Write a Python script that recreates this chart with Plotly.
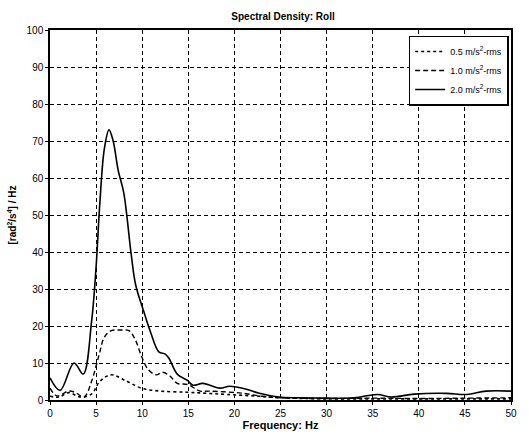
import plotly.graph_objects as go

# Series data
x_05 = [0, 1, 2, 3.3, 4.5, 5.4, 6.6, 8.0, 9.9, 12.0, 14.9, 17.0, 19.2, 22.7, 25, 28, 30, 35, 40, 45, 50]
y_05 = [1.0, 0.8, 2.0, 0.8, 1.6, 5.0, 6.8, 5.5, 3.2, 2.4, 2.1, 1.8, 1.5, 1.0, 0.6, 0.4, 0.3, 0.3, 0.3, 0.3, 0.3]

x_10 = [0, 0.75, 2.0, 2.7, 3.7, 4.5, 5.3, 5.9, 6.6, 7.6, 8.6, 9.3, 9.9, 10.6, 11.5, 12.2, 13.0, 13.8, 14.9, 16.3, 17.3, 20.2, 21.3, 23, 25, 30, 35, 40, 45, 50]
y_10 = [3.2, 1.1, 2.4, 2.1, 0.8, 5.0, 12.0, 17.0, 18.7, 18.9, 18.7, 16.0, 12.0, 8.4, 6.8, 7.5, 6.5, 4.5, 4.2, 2.4, 2.4, 2.0, 1.7, 1.0, 0.6, 0.4, 0.5, 0.4, 0.5, 0.6]

x_20 = [0, 1.1, 2.6, 3.6, 4.5, 5.0, 5.4, 5.9, 6.4, 6.85, 7.4, 8.0, 8.8, 9.3, 10.2, 10.9, 11.8, 12.5, 12.9, 13.8, 14.9, 15.5, 16.6, 18.4, 19.5, 21.3, 22.7, 24.8, 27, 30, 33, 35.5, 37, 39.5, 43, 45.2, 47.3, 50]
y_20 = [6.0, 2.6, 10.0, 7.0, 21.0, 36.0, 53.0, 68.0, 73.0, 70.0, 62.0, 56.0, 39.5, 31.0, 23.7, 18.4, 13.0, 12.4, 11.3, 7.0, 5.3, 4.0, 4.5, 3.2, 3.7, 2.9, 1.8, 0.8, 0.6, 0.5, 0.6, 1.5, 0.8, 1.6, 1.8, 1.5, 2.4, 2.4]

x_ticks = [0, 5, 10, 15, 20, 25, 30, 35, 40, 45, 50]
y_ticks = [0, 10, 20, 30, 40, 50, 60, 70, 80, 90, 100]

labels = ["0.5 m/s<sup>2</sup>-rms", "1.0 m/s<sup>2</sup>-rms", "2.0 m/s<sup>2</sup>-rms"]

FONT = "Liberation Sans, Arial"

fig = go.Figure()
fig.add_trace(go.Scatter(x=x_05, y=y_05, mode="lines", name=labels[0],
                         line=dict(color="black", width=1.6, dash="dot", shape="spline")))
fig.add_trace(go.Scatter(x=x_10, y=y_10, mode="lines", name=labels[1],
                         line=dict(color="black", width=1.4, dash="5px,3px", shape="spline")))
fig.add_trace(go.Scatter(x=x_20, y=y_20, mode="lines", name=labels[2],
                         line=dict(color="black", width=1.6, shape="spline")))

axis_common = dict(showline=True, linecolor="black", linewidth=1.5, mirror=True,
                   showgrid=True, gridcolor="black", gridwidth=1, griddash="4px,3px",
                   zeroline=False, ticks="outside", ticklen=3, tickcolor="black",
                   tickfont=dict(family=FONT, size=10, color="black"))

fig.update_xaxes(range=[0, 50], tickvals=x_ticks,
                 title=dict(text="<b>Frequency: Hz</b>", font=dict(family=FONT, size=11, color="black"), standoff=4),
                 **axis_common)
fig.update_yaxes(range=[0, 100], tickvals=y_ticks,
                 title=dict(text="<b>[rad<sup>2</sup>/s<sup>4</sup>] / Hz</b>", font=dict(family=FONT, size=10, color="black"), standoff=8),
                 **axis_common)

fig.update_layout(
    width=529, height=442,
    margin=dict(l=48, r=14, t=30, b=34),
    paper_bgcolor="white", plot_bgcolor="white",
    title=dict(text="<b>Spectral Density: Roll</b>", x=0.535, xanchor="center", y=0.963, yanchor="middle",
               font=dict(family=FONT, size=10, color="black")),
    showlegend=True,
    legend=dict(x=0.995, y=0.985, xanchor="right", yanchor="top",
                bgcolor="white", bordercolor="black", borderwidth=1.5,
                font=dict(family=FONT, size=9, color="black"),
                tracegroupgap=0, itemwidth=30),
)

fig.write_html("out.html")
